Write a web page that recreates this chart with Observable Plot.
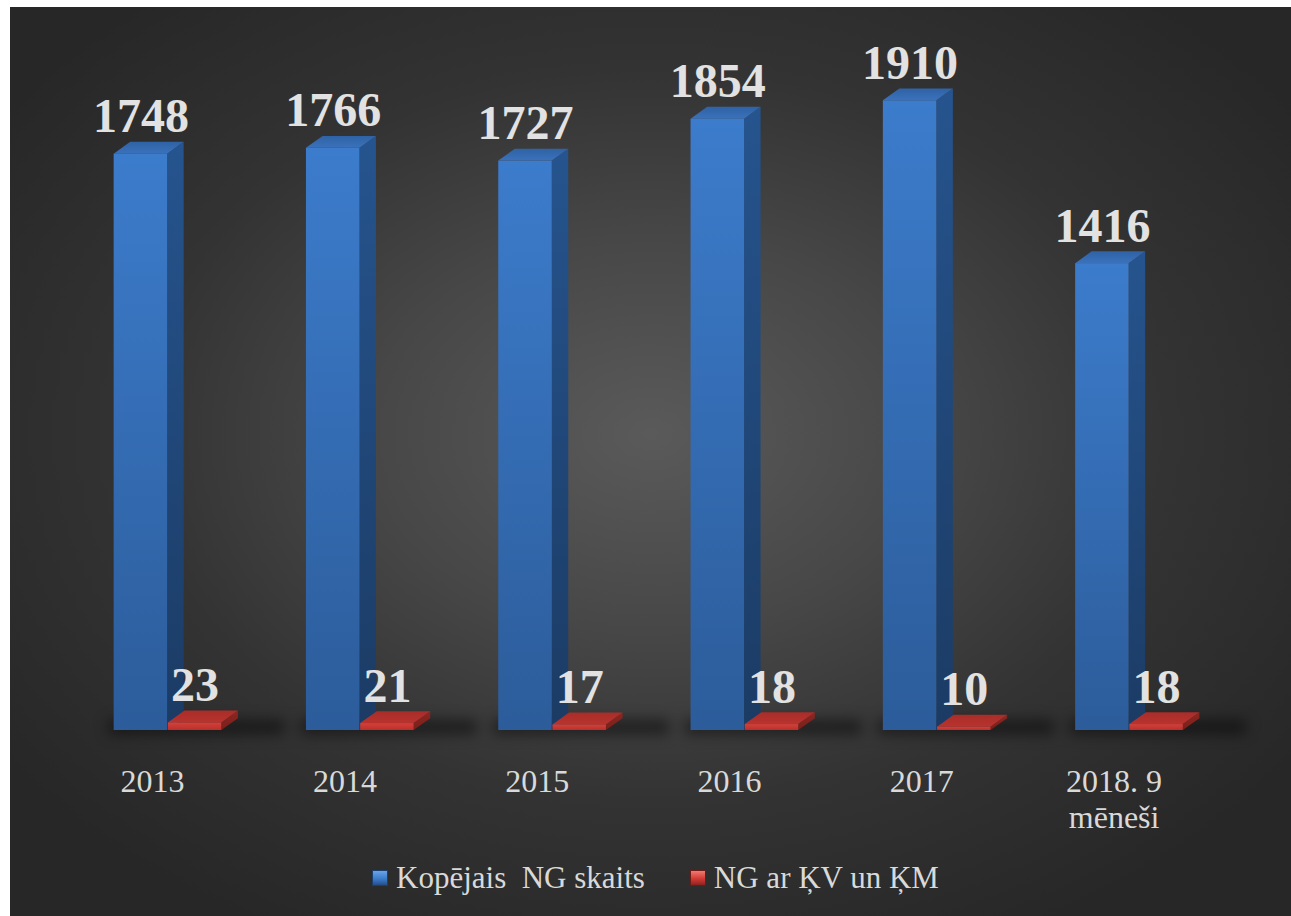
<!DOCTYPE html>
<html>
<head>
<meta charset="utf-8">
<script src="https://cdn.jsdelivr.net/npm/d3@7"></script>
<script src="https://cdn.jsdelivr.net/npm/@observablehq/plot@0.6"></script>
<style>
  html, body { margin: 0; padding: 0; background: #ffffff; }
  body { position: relative; width: 1291px; height: 916px; overflow: hidden; }
  #panel {
    position: absolute; left: 10px; top: 7px; width: 1281px; height: 909px;
    background: radial-gradient(ellipse 62% 62% at 50% 47%, #5a5a5a 0%, #474747 35%, #333333 65%, #272727 100%);
  }
  #chart { position: absolute; left: 0; top: 0; }
  #legend {
    position: absolute; left: 362px; top: 853px;
    display: flex; align-items: center;
    font-family: "Liberation Serif", "Times New Roman", serif;
    font-size: 31px; color: #d9d9d9; white-space: pre;
  }
  .sw { width: 16px; height: 16px; margin-right: 8px; box-sizing: border-box; }
  .sw.blue { background: linear-gradient(180deg, #6aa3ea 0%, #3d7cc9 55%, #24508a 100%); border: 1px solid #1d3f6c; }
  .sw.red { background: linear-gradient(180deg, #f07a72 0%, #d23a34 55%, #8d231f 100%); border: 1px solid #6e1a17; }
  .item { display: flex; align-items: center; }
</style>
</head>
<body>
<div id="panel">
  <div id="chart"></div>
  <div id="legend"></div>
</div>
<script>
// ---- data ----
const years = ["2013", "2014", "2015", "2016", "2017", "2018. 9\nmēneši"];
const totals = [1748, 1766, 1727, 1854, 1910, 1416];
const withKV = [23, 21, 17, 18, 10, 18];
const seriesNames = ["Kopējais  NG skaits", "NG ar ĶV un ĶM"];

// ---- geometry constants (in scale units) ----
const W = 0.278;   // front-face width
const GAP = 0.004; // gap between blue and red
const DX = 0.086;  // 3D depth, horizontal
const DY = 36;     // 3D depth, vertical (value units)

const idx = years.map((_, i) => i);

function sideData(vals, x0) {
  return vals.flatMap((v, i) => [
    {k: i, x: i + x0 + W, y1: 0, y2: v},
    {k: i, x: i + x0 + W + DX, y1: DY, y2: v + DY}
  ]);
}
function topData(vals, x0) {
  return vals.flatMap((v, i) => [
    {k: i, y: v, x1: i + x0, x2: i + x0 + W},
    {k: i, y: v + DY, x1: i + x0 + DX, x2: i + x0 + W + DX}
  ]);
}

function defs() {
  const ns = "http://www.w3.org/2000/svg";
  const d = document.createElementNS(ns, "defs");
  const grads = [
    ["blueFront", [["0%", "#3c7ccc"], ["100%", "#2c5c9a"]]],
    ["blueSide", [["0%", "#26548e"], ["100%", "#1b3b64"]]],
    ["blueTop", [["0%", "#2f62a6"], ["100%", "#3a72bb"]]],
    ["redFront", [["0%", "#d6403a"], ["100%", "#b8302b"]]],
    ["redSide", [["0%", "#8e2621"], ["100%", "#7a1f1b"]]],
    ["redTop", [["0%", "#a92d29"], ["100%", "#b8332e"]]]
  ];
  for (const [id, stops] of grads) {
    const g = document.createElementNS(ns, "linearGradient");
    g.setAttribute("id", id);
    g.setAttribute("x1", "0"); g.setAttribute("y1", "0");
    g.setAttribute("x2", "0"); g.setAttribute("y2", "1");
    for (const [o, c] of stops) {
      const s = document.createElementNS(ns, "stop");
      s.setAttribute("offset", o); s.setAttribute("stop-color", c);
      g.appendChild(s);
    }
    d.appendChild(g);
  }
  return d;
}

const serif = "Liberation Serif, Times New Roman, serif";
const x0Blue = -W - GAP / 2;
const x0Red = GAP / 2;

const plot = Plot.plot({
  width: 1281,
  height: 823,
  marginLeft: 61.35,
  marginRight: 65.85,
  marginTop: 63.6,
  marginBottom: 100,
  style: {background: "transparent", overflow: "visible"},
  x: {type: "linear", domain: [-0.5, 5.5], axis: null},
  y: {type: "linear", domain: [0, 2000], axis: null},
  marks: [
    defs,
    // floor shadows
    Plot.rect(idx, {
      x1: i => i - W - 0.03, x2: i => i + W + 0.33,
      y1: -12, y2: 30,
      fill: "#000", fillOpacity: 0.5,
      ariaDescription: "shadow"
    }),
    // blue bars
    Plot.areaY(sideData(totals, x0Blue), {x: "x", y1: "y1", y2: "y2", z: "k", fill: "url(#blueSide)"}),
    Plot.areaX(topData(totals, x0Blue), {y: "y", x1: "x1", x2: "x2", z: "k", fill: "url(#blueTop)"}),
    Plot.rect(idx, {x1: i => i + x0Blue, x2: i => i + x0Blue + W, y1: 0, y2: i => totals[i], fill: "url(#blueFront)"}),
    // red bars
    Plot.areaY(sideData(withKV, x0Red), {x: "x", y1: "y1", y2: "y2", z: "k", fill: "url(#redSide)"}),
    Plot.areaX(topData(withKV, x0Red), {y: "y", x1: "x1", x2: "x2", z: "k", fill: "url(#redTop)"}),
    Plot.rect(idx, {x1: i => i + x0Red, x2: i => i + x0Red + W, y1: 0, y2: i => withKV[i], fill: "url(#redFront)"}),
    // value labels
    Plot.text(idx, {
      x: i => i + x0Blue + W / 2, y: i => totals[i], text: i => String(totals[i]),
      dy: -22, lineAnchor: "bottom", fontSize: 48, fontWeight: "bold",
      fontFamily: serif, fill: "#e2e2e2"
    }),
    Plot.text(idx, {
      x: i => i + x0Red + W / 2, y: i => withKV[i], text: i => String(withKV[i]),
      dy: -22, lineAnchor: "bottom", fontSize: 48, fontWeight: "bold",
      fontFamily: serif, fill: "#e2e2e2"
    }),
    // category labels
    Plot.text(idx, {
      x: i => i - 0.08, y: 0, text: i => years[i],
      dy: 35, lineAnchor: "top", lineHeight: 1.15, fontSize: 32,
      fontFamily: serif, fill: "#d9d9d9"
    })
  ]
});

d3.select(plot).selectAll('g[aria-description="shadow"]').style("filter", "blur(7px)");
document.getElementById("chart").appendChild(plot);

// legend
const legend = d3.select("#legend");
const colors = ["blue", "red"];
seriesNames.forEach((name, k) => {
  const item = legend.append("div").attr("class", "item").style("margin-right", k === 0 ? "45px" : "0px");
  item.append("div").attr("class", "sw " + colors[k]);
  item.append("span").text(name);
});
</script>
</body>
</html>
